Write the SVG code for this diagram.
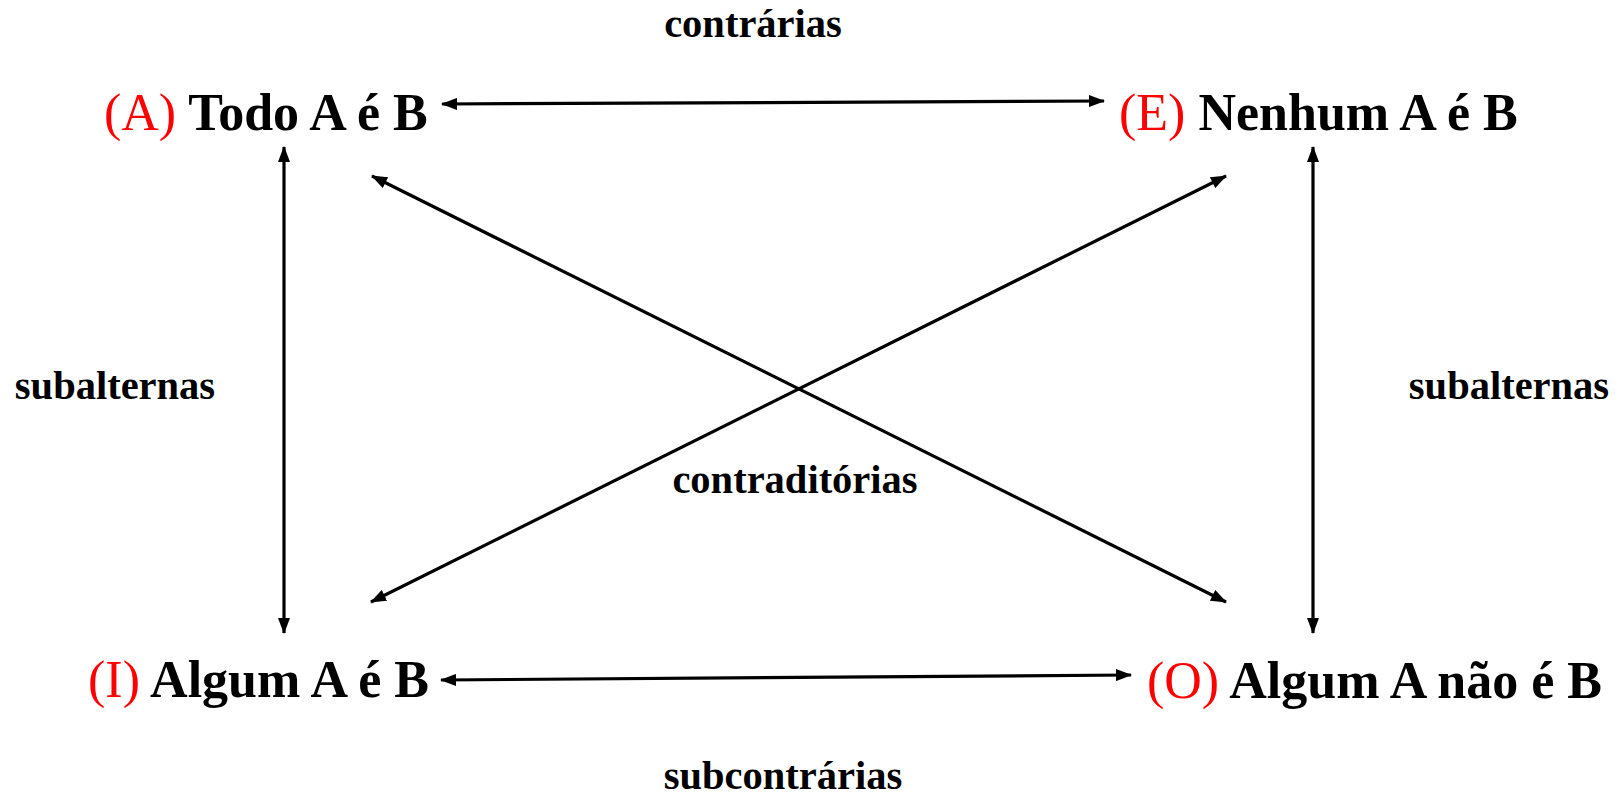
<svg xmlns="http://www.w3.org/2000/svg" width="1616" height="807" viewBox="0 0 1616 807">
<style>
.t{font-family:"Liberation Serif","Times New Roman",serif;font-size:52px;font-weight:bold;fill:#000}
.r{font-weight:normal;fill:#ff0000}
.lbl{font-family:"Liberation Serif","Times New Roman",serif;font-size:40.5px;font-weight:bold;fill:#000}
.c{stroke:#000;stroke-width:3.2;fill:none;marker-start:url(#a);marker-end:url(#a)}
</style>
<defs>
<marker id="a" viewBox="0 0 16 12" refX="15" refY="6" markerWidth="16" markerHeight="12" markerUnits="userSpaceOnUse" orient="auto-start-reverse">
<path d="M0,0 L16,6 L0,12 z" fill="#000"/>
</marker>
</defs>
<rect width="1616" height="807" fill="#fff"/>
<g id="connectors">
<line class="c" x1="442" y1="104" x2="1104" y2="101"/>
<line class="c" x1="441" y1="680" x2="1131" y2="675"/>
<line class="c" x1="284" y1="147" x2="284" y2="633"/>
<line class="c" x1="1313" y1="147" x2="1313" y2="633"/>
<line class="c" x1="372" y1="176" x2="1226" y2="602"/>
<line class="c" x1="1226" y1="176" x2="371" y2="602"/>
</g>
<g id="node-A"><text class="t" x="104" y="130"><tspan class="r">(A)</tspan> Todo A é B</text></g>
<g id="node-E"><text class="t" x="1119" y="130"><tspan class="r">(E)</tspan> Nenhum A é B</text></g>
<g id="node-I"><text class="t" x="88" y="697"><tspan class="r">(I)</tspan> Algum A é B</text></g>
<g id="node-O"><text class="t" x="1147" y="698"><tspan class="r">(O)</tspan> Algum A não é B</text></g>
<g id="labels">
<text class="lbl" x="753" y="37" text-anchor="middle">contrárias</text>
<text class="lbl" x="783" y="789" text-anchor="middle">subcontrárias</text>
<text class="lbl" x="115" y="399" text-anchor="middle">subalternas</text>
<text class="lbl" x="1509" y="399" text-anchor="middle">subalternas</text>
<text class="lbl" x="795" y="493" text-anchor="middle">contraditórias</text>
</g>
</svg>
